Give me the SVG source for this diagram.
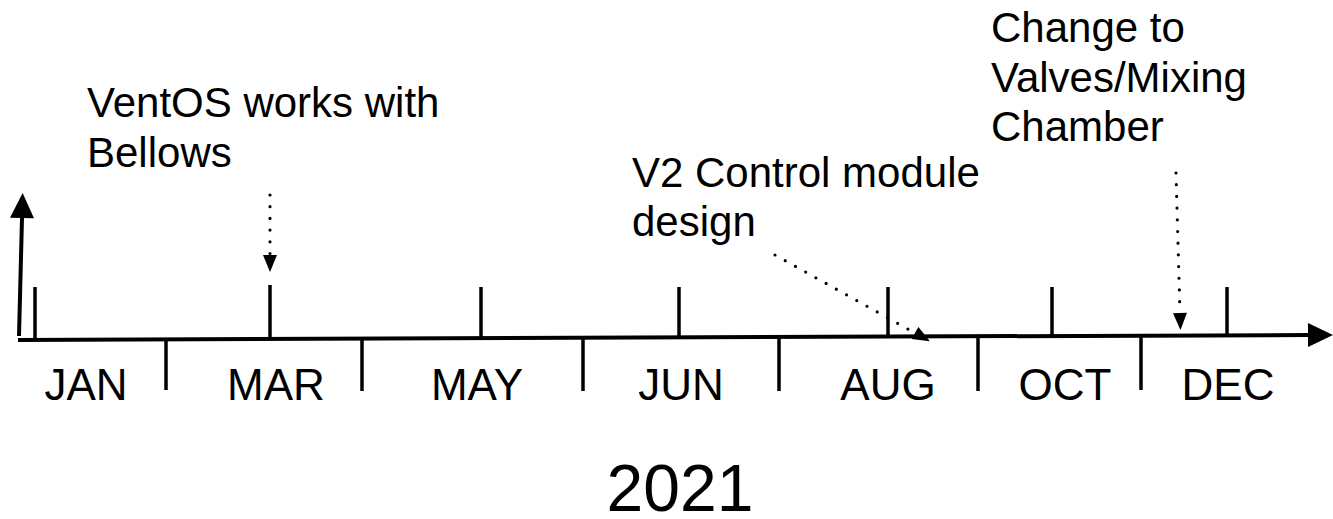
<svg xmlns="http://www.w3.org/2000/svg" width="1333" height="519" viewBox="0 0 1333 519">
<style>
  .txt { font-family: "Liberation Sans", Arial, sans-serif; fill: #000; }
  .ann { font-size: 42px; }
  .mon { font-size: 44px; text-anchor: middle; }
  .year { font-size: 66px; text-anchor: middle; }
  .tick { stroke: #000; stroke-width: 3.5; fill: none; }
  .axis { stroke: #000; stroke-width: 4; fill: none; }
  .dot { stroke: #000; stroke-width: 3.2; stroke-dasharray: 0 11.7; stroke-linecap: round; fill: none; }
</style>
<defs>
  <marker id="bigHead" markerUnits="userSpaceOnUse" markerWidth="25" markerHeight="24" refX="0" refY="12" orient="auto" overflow="visible">
    <path d="M0,0 L25,12 L0,24 z" fill="#000"/>
  </marker>
  <marker id="smallHead" markerUnits="userSpaceOnUse" markerWidth="17" markerHeight="14" refX="0" refY="7" orient="auto" overflow="visible">
    <path d="M0,0 L17,7 L0,14 z" fill="#000"/>
  </marker>
</defs>
<rect width="1333" height="519" fill="#fff"/>

<g id="connectors">
  <line id="axis" class="axis" x1="18" y1="340" x2="1308" y2="335" marker-end="url(#bigHead)"/>
  <line id="vaxis" class="axis" x1="19" y1="336" x2="22" y2="218" marker-end="url(#bigHead)"/>
  <line class="dot" x1="270" y1="195" x2="270" y2="255" marker-end="url(#smallHead)"/>
  <line class="dot" x1="775" y1="255" x2="915" y2="333" marker-end="url(#smallHead)"/>
  <line class="dot" x1="1176" y1="173" x2="1180" y2="313" marker-end="url(#smallHead)"/>
</g>

<g id="ticks">
  <line class="tick" x1="35" y1="287" x2="35" y2="340"/>
  <line class="tick" x1="270" y1="285" x2="270" y2="339"/>
  <line class="tick" x1="481" y1="287" x2="481" y2="338"/>
  <line class="tick" x1="679" y1="287" x2="679" y2="337"/>
  <line class="tick" x1="888" y1="287" x2="888" y2="337"/>
  <line class="tick" x1="1052" y1="287" x2="1052" y2="336"/>
  <line class="tick" x1="1227" y1="287" x2="1227" y2="335"/>
  <line class="tick" x1="166" y1="339" x2="166" y2="390"/>
  <line class="tick" x1="362" y1="339" x2="362" y2="391"/>
  <line class="tick" x1="583" y1="338" x2="583" y2="391"/>
  <line class="tick" x1="779" y1="337" x2="779" y2="391"/>
  <line class="tick" x1="978" y1="337" x2="978" y2="391"/>
  <line class="tick" x1="1141" y1="336" x2="1141" y2="390"/>
</g>

<g id="months">
  <text class="txt mon" x="86" y="400">JAN</text>
  <text class="txt mon" x="276" y="400">MAR</text>
  <text class="txt mon" x="477" y="400">MAY</text>
  <text class="txt mon" x="681" y="400">JUN</text>
  <text class="txt mon" x="888" y="400">AUG</text>
  <text class="txt mon" x="1065" y="400">OCT</text>
  <text class="txt mon" x="1228" y="400">DEC</text>
</g>

<g id="note-ventos">
  <text class="txt ann" x="87" y="117">VentOS works with</text>
  <text class="txt ann" x="87" y="167">Bellows</text>
</g>

<g id="note-v2">
  <text class="txt ann" x="632" y="187">V2 Control module</text>
  <text class="txt ann" x="632" y="236">design</text>
</g>

<g id="note-valves">
  <text class="txt ann" x="991" y="42">Change to</text>
  <text class="txt ann" x="991" y="92">Valves/Mixing</text>
  <text class="txt ann" x="991" y="141">Chamber</text>
</g>

<g id="year">
  <text class="txt year" x="680" y="511">2021</text>
</g>
</svg>
